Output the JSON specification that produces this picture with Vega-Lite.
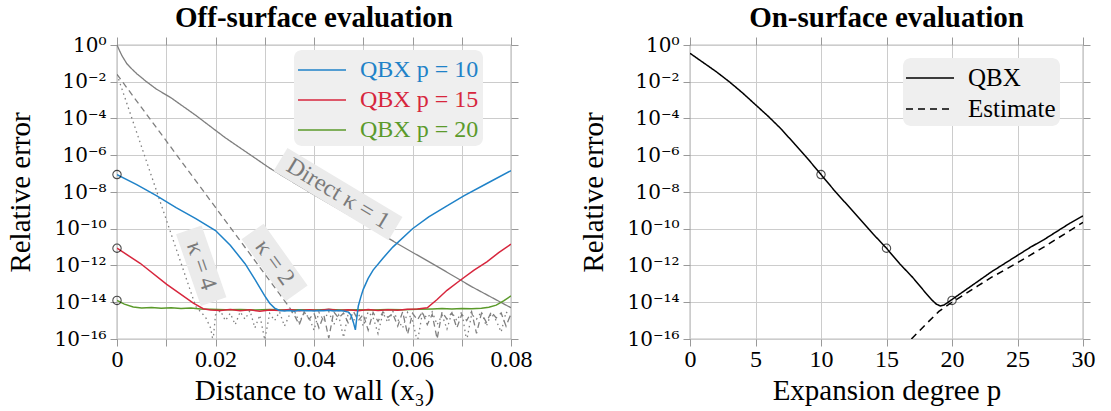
{
  "$schema": "https://vega.github.io/schema/vega-lite/v6.json",
  "background": "white",
  "padding": {"left": 6, "top": 3, "right": 6, "bottom": 0},
  "spacing": 46,
  "config": {
    "font": "Liberation Serif",
    "view": {"stroke": "#808080", "strokeWidth": 1.2},
    "axis": {
      "labelFont": "Liberation Serif", "labelFontSize": 24, "labelColor": "#000",
      "titleFont": "Liberation Serif", "titleFontSize": 29, "titleFontWeight": "normal", "titleColor": "#000",
      "gridColor": "#cccccc", "gridWidth": 1, "domain": false,
      "tickColor": "#999999", "tickSize": 7, "labelPadding": 4
    },
    "axisX": {"labelPadding": 1, "titlePadding": 5},
    "axisY": {"labelFont": "DejaVu Serif", "labelFontSize": 20, "titlePadding": 18},
    "title": {"font": "Liberation Serif", "fontSize": 29, "fontWeight": "bold", "color": "#000", "offset": 2},
    "legend": {"labelFont": "Liberation Serif"}
  },
  "resolve": {"scale": {"color": "independent", "strokeDash": "independent"}},
  "datasets": {
    "gray": [
      {"x": 0, "err": 1, "series": "Direct κ = 1"},
      {"x": 0.0005, "err": 0.5, "series": "Direct κ = 1"},
      {"x": 0.001, "err": 0.263, "series": "Direct κ = 1"},
      {"x": 0.002, "err": 0.0955, "series": "Direct κ = 1"},
      {"x": 0.003, "err": 0.0501, "series": "Direct κ = 1"},
      {"x": 0.004, "err": 0.0275, "series": "Direct κ = 1"},
      {"x": 0.006, "err": 0.01, "series": "Direct κ = 1"},
      {"x": 0.008, "err": 0.00398, "series": "Direct κ = 1"},
      {"x": 0.011, "err": 0.00132, "series": "Direct κ = 1"},
      {"x": 0.016, "err": 0.000148, "series": "Direct κ = 1"},
      {"x": 0.022, "err": 8.91e-6, "series": "Direct κ = 1"},
      {"x": 0.031, "err": 2.0e-7, "series": "Direct κ = 1"},
      {"x": 0.04, "err": 7.08e-9, "series": "Direct κ = 1"},
      {"x": 0.05, "err": 2.0e-10, "series": "Direct κ = 1"},
      {"x": 0.057, "err": 1.51e-11, "series": "Direct κ = 1"},
      {"x": 0.065, "err": 8.91e-13, "series": "Direct κ = 1"},
      {"x": 0.072, "err": 7.08e-14, "series": "Direct κ = 1"},
      {"x": 0.08, "err": 5.01e-15, "series": "Direct κ = 1"},

      {"x": 0, "err": 0.0251, "series": "κ = 2"},
      {"x": 0.005, "err": 3.89e-4, "series": "κ = 2"},
      {"x": 0.01, "err": 6.03e-6, "series": "κ = 2"},
      {"x": 0.015, "err": 9.33e-8, "series": "κ = 2"},
      {"x": 0.02, "err": 1.45e-9, "series": "κ = 2"},
      {"x": 0.025, "err": 2.24e-11, "series": "κ = 2"},
      {"x": 0.03, "err": 3.47e-13, "series": "κ = 2"},
      {"x": 0.033, "err": 2.82e-14, "series": "κ = 2"},
      {"x": 0.035, "err": 5.37e-15, "series": "κ = 2"},
      {"x": 0.036, "err": 2e-15, "series": "κ = 2"},
      {"x": 0.037, "err": 6e-16, "series": "κ = 2"},
      {"x": 0.038, "err": 3e-15, "series": "κ = 2"},
      {"x": 0.039, "err": 1.2e-15, "series": "κ = 2"},
      {"x": 0.04, "err": 2.5e-15, "series": "κ = 2"},
      {"x": 0.041, "err": 4e-16, "series": "κ = 2"},
      {"x": 0.042, "err": 2e-15, "series": "κ = 2"},
      {"x": 0.043, "err": 1.1e-16, "series": "κ = 2"},
      {"x": 0.044, "err": 3e-15, "series": "κ = 2"},
      {"x": 0.045, "err": 1.4e-15, "series": "κ = 2"},
      {"x": 0.046, "err": 2.6e-15, "series": "κ = 2"},
      {"x": 0.047, "err": 7e-16, "series": "κ = 2"},
      {"x": 0.048, "err": 3.2e-15, "series": "κ = 2"},
      {"x": 0.049, "err": 1e-15, "series": "κ = 2"},
      {"x": 0.05, "err": 2.2e-15, "series": "κ = 2"},
      {"x": 0.051, "err": 3e-16, "series": "κ = 2"},
      {"x": 0.052, "err": 2.8e-15, "series": "κ = 2"},
      {"x": 0.053, "err": 9e-16, "series": "κ = 2"},
      {"x": 0.054, "err": 3e-15, "series": "κ = 2"},
      {"x": 0.055, "err": 1.5e-15, "series": "κ = 2"},
      {"x": 0.056, "err": 2.4e-15, "series": "κ = 2"},
      {"x": 0.057, "err": 5e-16, "series": "κ = 2"},
      {"x": 0.058, "err": 3e-15, "series": "κ = 2"},
      {"x": 0.059, "err": 1.8e-16, "series": "κ = 2"},
      {"x": 0.06, "err": 2.5e-15, "series": "κ = 2"},
      {"x": 0.061, "err": 1.1e-15, "series": "κ = 2"},
      {"x": 0.062, "err": 3e-15, "series": "κ = 2"},
      {"x": 0.063, "err": 6e-16, "series": "κ = 2"},
      {"x": 0.064, "err": 2.2e-15, "series": "κ = 2"},
      {"x": 0.065, "err": 1e-16, "series": "κ = 2"},
      {"x": 0.066, "err": 3e-15, "series": "κ = 2"},
      {"x": 0.067, "err": 1.2e-15, "series": "κ = 2"},
      {"x": 0.068, "err": 2.7e-15, "series": "κ = 2"},
      {"x": 0.069, "err": 4e-16, "series": "κ = 2"},
      {"x": 0.07, "err": 2.2e-15, "series": "κ = 2"},
      {"x": 0.071, "err": 1e-15, "series": "κ = 2"},
      {"x": 0.072, "err": 3.1e-15, "series": "κ = 2"},
      {"x": 0.073, "err": 2e-16, "series": "κ = 2"},
      {"x": 0.074, "err": 2.5e-15, "series": "κ = 2"},
      {"x": 0.075, "err": 8e-16, "series": "κ = 2"},
      {"x": 0.076, "err": 3e-15, "series": "κ = 2"},
      {"x": 0.077, "err": 1.4e-15, "series": "κ = 2"},
      {"x": 0.078, "err": 2.6e-15, "series": "κ = 2"},
      {"x": 0.079, "err": 5e-16, "series": "κ = 2"},
      {"x": 0.08, "err": 2.4e-15, "series": "κ = 2"},

      {"x": 0, "err": 0.0251, "series": "κ = 4"},
      {"x": 0.002, "err": 6.61e-4, "series": "κ = 4"},
      {"x": 0.004, "err": 1.74e-5, "series": "κ = 4"},
      {"x": 0.006, "err": 4.57e-7, "series": "κ = 4"},
      {"x": 0.008, "err": 1.2e-8, "series": "κ = 4"},
      {"x": 0.01, "err": 3.16e-10, "series": "κ = 4"},
      {"x": 0.012, "err": 8.32e-12, "series": "κ = 4"},
      {"x": 0.014, "err": 2.19e-13, "series": "κ = 4"},
      {"x": 0.016, "err": 5.75e-15, "series": "κ = 4"},
      {"x": 0.017, "err": 3e-15, "series": "κ = 4"},
      {"x": 0.018, "err": 1.5e-15, "series": "κ = 4"},
      {"x": 0.019, "err": 4e-16, "series": "κ = 4"},
      {"x": 0.0195, "err": 8e-17, "series": "κ = 4"},
      {"x": 0.02, "err": 2e-15, "series": "κ = 4"},
      {"x": 0.021, "err": 3.5e-15, "series": "κ = 4"},
      {"x": 0.022, "err": 1e-15, "series": "κ = 4"},
      {"x": 0.023, "err": 2.5e-15, "series": "κ = 4"},
      {"x": 0.024, "err": 6e-16, "series": "κ = 4"},
      {"x": 0.025, "err": 3e-15, "series": "κ = 4"},
      {"x": 0.026, "err": 1.2e-15, "series": "κ = 4"},
      {"x": 0.027, "err": 3.5e-15, "series": "κ = 4"},
      {"x": 0.028, "err": 4e-16, "series": "κ = 4"},
      {"x": 0.029, "err": 2e-15, "series": "κ = 4"},
      {"x": 0.03, "err": 9e-17, "series": "κ = 4"},
      {"x": 0.031, "err": 2.5e-15, "series": "κ = 4"},
      {"x": 0.032, "err": 1e-15, "series": "κ = 4"},
      {"x": 0.033, "err": 3e-15, "series": "κ = 4"},
      {"x": 0.034, "err": 5e-16, "series": "κ = 4"},
      {"x": 0.035, "err": 2e-15, "series": "κ = 4"},
      {"x": 0.036, "err": 3.5e-15, "series": "κ = 4"},
      {"x": 0.037, "err": 8e-16, "series": "κ = 4"},
      {"x": 0.038, "err": 2.5e-15, "series": "κ = 4"},
      {"x": 0.039, "err": 1.5e-15, "series": "κ = 4"},
      {"x": 0.04, "err": 3e-16, "series": "κ = 4"},
      {"x": 0.041, "err": 2.8e-15, "series": "κ = 4"},
      {"x": 0.042, "err": 1e-15, "series": "κ = 4"},
      {"x": 0.043, "err": 3.2e-15, "series": "κ = 4"},
      {"x": 0.044, "err": 6e-16, "series": "κ = 4"},
      {"x": 0.045, "err": 2e-15, "series": "κ = 4"},
      {"x": 0.046, "err": 1.2e-16, "series": "κ = 4"},
      {"x": 0.047, "err": 3e-15, "series": "κ = 4"},
      {"x": 0.048, "err": 1e-15, "series": "κ = 4"},
      {"x": 0.049, "err": 2.5e-15, "series": "κ = 4"},
      {"x": 0.05, "err": 5e-16, "series": "κ = 4"},
      {"x": 0.051, "err": 3e-15, "series": "κ = 4"},
      {"x": 0.052, "err": 1.5e-15, "series": "κ = 4"},
      {"x": 0.053, "err": 2e-16, "series": "κ = 4"},
      {"x": 0.054, "err": 2.6e-15, "series": "κ = 4"},
      {"x": 0.055, "err": 8e-16, "series": "κ = 4"},
      {"x": 0.056, "err": 3.2e-15, "series": "κ = 4"},
      {"x": 0.057, "err": 1.2e-15, "series": "κ = 4"},
      {"x": 0.058, "err": 4e-16, "series": "κ = 4"},
      {"x": 0.059, "err": 2.8e-15, "series": "κ = 4"},
      {"x": 0.06, "err": 1e-15, "series": "κ = 4"},
      {"x": 0.061, "err": 7e-17, "series": "κ = 4"},
      {"x": 0.062, "err": 2.5e-15, "series": "κ = 4"},
      {"x": 0.063, "err": 1.4e-15, "series": "κ = 4"},
      {"x": 0.064, "err": 3e-15, "series": "κ = 4"},
      {"x": 0.065, "err": 6e-16, "series": "κ = 4"},
      {"x": 0.066, "err": 2e-15, "series": "κ = 4"},
      {"x": 0.067, "err": 3.5e-16, "series": "κ = 4"},
      {"x": 0.068, "err": 2.8e-15, "series": "κ = 4"},
      {"x": 0.069, "err": 1e-15, "series": "κ = 4"},
      {"x": 0.07, "err": 3e-15, "series": "κ = 4"},
      {"x": 0.071, "err": 8e-17, "series": "κ = 4"},
      {"x": 0.072, "err": 2.2e-15, "series": "κ = 4"},
      {"x": 0.073, "err": 1.2e-15, "series": "κ = 4"},
      {"x": 0.074, "err": 3e-15, "series": "κ = 4"},
      {"x": 0.075, "err": 5e-16, "series": "κ = 4"},
      {"x": 0.076, "err": 2.5e-15, "series": "κ = 4"},
      {"x": 0.077, "err": 1e-15, "series": "κ = 4"},
      {"x": 0.078, "err": 2.4e-16, "series": "κ = 4"},
      {"x": 0.079, "err": 3e-15, "series": "κ = 4"},
      {"x": 0.08, "err": 1.5e-15, "series": "κ = 4"}
    ],
    "qbx": [
      {"x": 0, "err": 1.26e-14, "series": "QBX p = 20"},
      {"x": 0.0015, "err": 7.94e-15, "series": "QBX p = 20"},
      {"x": 0.0033, "err": 5.5e-15, "series": "QBX p = 20"},
      {"x": 0.005, "err": 4.8e-15, "series": "QBX p = 20"},
      {"x": 0.007, "err": 5.2e-15, "series": "QBX p = 20"},
      {"x": 0.009, "err": 4.7e-15, "series": "QBX p = 20"},
      {"x": 0.011, "err": 5.0e-15, "series": "QBX p = 20"},
      {"x": 0.013, "err": 4.6e-15, "series": "QBX p = 20"},
      {"x": 0.015, "err": 4.8e-15, "series": "QBX p = 20"},
      {"x": 0.017, "err": 4.3e-15, "series": "QBX p = 20"},
      {"x": 0.019, "err": 4.1e-15, "series": "QBX p = 20"},
      {"x": 0.022, "err": 3.9e-15, "series": "QBX p = 20"},
      {"x": 0.025, "err": 4.0e-15, "series": "QBX p = 20"},
      {"x": 0.028, "err": 3.8e-15, "series": "QBX p = 20"},
      {"x": 0.031, "err": 4.0e-15, "series": "QBX p = 20"},
      {"x": 0.034, "err": 3.8e-15, "series": "QBX p = 20"},
      {"x": 0.037, "err": 3.9e-15, "series": "QBX p = 20"},
      {"x": 0.04, "err": 3.8e-15, "series": "QBX p = 20"},
      {"x": 0.043, "err": 4.0e-15, "series": "QBX p = 20"},
      {"x": 0.046, "err": 3.8e-15, "series": "QBX p = 20"},
      {"x": 0.049, "err": 3.9e-15, "series": "QBX p = 20"},
      {"x": 0.052, "err": 3.8e-15, "series": "QBX p = 20"},
      {"x": 0.055, "err": 4.0e-15, "series": "QBX p = 20"},
      {"x": 0.058, "err": 3.9e-15, "series": "QBX p = 20"},
      {"x": 0.061, "err": 4.1e-15, "series": "QBX p = 20"},
      {"x": 0.064, "err": 4.3e-15, "series": "QBX p = 20"},
      {"x": 0.066, "err": 4.5e-15, "series": "QBX p = 20"},
      {"x": 0.068, "err": 4.3e-15, "series": "QBX p = 20"},
      {"x": 0.07, "err": 4.6e-15, "series": "QBX p = 20"},
      {"x": 0.072, "err": 4.4e-15, "series": "QBX p = 20"},
      {"x": 0.074, "err": 4.7e-15, "series": "QBX p = 20"},
      {"x": 0.0755, "err": 5.3e-15, "series": "QBX p = 20"},
      {"x": 0.077, "err": 7e-15, "series": "QBX p = 20"},
      {"x": 0.0785, "err": 1.2e-14, "series": "QBX p = 20"},
      {"x": 0.08, "err": 2.2e-14, "series": "QBX p = 20"},

      {"x": 0, "err": 8.71e-12, "series": "QBX p = 15"},
      {"x": 0.0047, "err": 1.32e-12, "series": "QBX p = 15"},
      {"x": 0.0101, "err": 9.33e-14, "series": "QBX p = 15"},
      {"x": 0.0155, "err": 8.91e-15, "series": "QBX p = 15"},
      {"x": 0.0175, "err": 4.47e-15, "series": "QBX p = 15"},
      {"x": 0.019, "err": 3.8e-15, "series": "QBX p = 15"},
      {"x": 0.021, "err": 3.6e-15, "series": "QBX p = 15"},
      {"x": 0.023, "err": 4.0e-15, "series": "QBX p = 15"},
      {"x": 0.025, "err": 3.5e-15, "series": "QBX p = 15"},
      {"x": 0.027, "err": 3.9e-15, "series": "QBX p = 15"},
      {"x": 0.029, "err": 3.2e-15, "series": "QBX p = 15"},
      {"x": 0.031, "err": 3.8e-15, "series": "QBX p = 15"},
      {"x": 0.033, "err": 3.6e-15, "series": "QBX p = 15"},
      {"x": 0.035, "err": 4.0e-15, "series": "QBX p = 15"},
      {"x": 0.037, "err": 3.5e-15, "series": "QBX p = 15"},
      {"x": 0.039, "err": 3.9e-15, "series": "QBX p = 15"},
      {"x": 0.041, "err": 3.6e-15, "series": "QBX p = 15"},
      {"x": 0.043, "err": 4.1e-15, "series": "QBX p = 15"},
      {"x": 0.045, "err": 3.6e-15, "series": "QBX p = 15"},
      {"x": 0.047, "err": 3.9e-15, "series": "QBX p = 15"},
      {"x": 0.049, "err": 3.5e-15, "series": "QBX p = 15"},
      {"x": 0.051, "err": 4.0e-15, "series": "QBX p = 15"},
      {"x": 0.053, "err": 3.6e-15, "series": "QBX p = 15"},
      {"x": 0.055, "err": 3.9e-15, "series": "QBX p = 15"},
      {"x": 0.057, "err": 3.7e-15, "series": "QBX p = 15"},
      {"x": 0.059, "err": 4.1e-15, "series": "QBX p = 15"},
      {"x": 0.061, "err": 4.3e-15, "series": "QBX p = 15"},
      {"x": 0.063, "err": 5.0e-15, "series": "QBX p = 15"},
      {"x": 0.065, "err": 1.41e-14, "series": "QBX p = 15"},
      {"x": 0.067, "err": 4.47e-14, "series": "QBX p = 15"},
      {"x": 0.0697, "err": 1.58e-13, "series": "QBX p = 15"},
      {"x": 0.0725, "err": 5.62e-13, "series": "QBX p = 15"},
      {"x": 0.0751, "err": 1.58e-12, "series": "QBX p = 15"},
      {"x": 0.0775, "err": 5.01e-12, "series": "QBX p = 15"},
      {"x": 0.08, "err": 1.45e-11, "series": "QBX p = 15"},

      {"x": 0, "err": 8.91e-8, "series": "QBX p = 10"},
      {"x": 0.004, "err": 2.51e-8, "series": "QBX p = 10"},
      {"x": 0.008, "err": 6.31e-9, "series": "QBX p = 10"},
      {"x": 0.012, "err": 1.41e-9, "series": "QBX p = 10"},
      {"x": 0.016, "err": 3.55e-10, "series": "QBX p = 10"},
      {"x": 0.02, "err": 7.94e-11, "series": "QBX p = 10"},
      {"x": 0.023, "err": 1.26e-11, "series": "QBX p = 10"},
      {"x": 0.026, "err": 1.26e-12, "series": "QBX p = 10"},
      {"x": 0.028, "err": 1.78e-13, "series": "QBX p = 10"},
      {"x": 0.03, "err": 2.24e-14, "series": "QBX p = 10"},
      {"x": 0.031, "err": 8.91e-15, "series": "QBX p = 10"},
      {"x": 0.032, "err": 4.79e-15, "series": "QBX p = 10"},
      {"x": 0.033, "err": 3.55e-15, "series": "QBX p = 10"},
      {"x": 0.034, "err": 3.3e-15, "series": "QBX p = 10"},
      {"x": 0.035, "err": 3.6e-15, "series": "QBX p = 10"},
      {"x": 0.036, "err": 3.2e-15, "series": "QBX p = 10"},
      {"x": 0.037, "err": 3.7e-15, "series": "QBX p = 10"},
      {"x": 0.038, "err": 3.4e-15, "series": "QBX p = 10"},
      {"x": 0.039, "err": 3.5e-15, "series": "QBX p = 10"},
      {"x": 0.04, "err": 3.3e-15, "series": "QBX p = 10"},
      {"x": 0.041, "err": 3.6e-15, "series": "QBX p = 10"},
      {"x": 0.042, "err": 3.4e-15, "series": "QBX p = 10"},
      {"x": 0.043, "err": 3.7e-15, "series": "QBX p = 10"},
      {"x": 0.044, "err": 3.3e-15, "series": "QBX p = 10"},
      {"x": 0.045, "err": 3.5e-15, "series": "QBX p = 10"},
      {"x": 0.046, "err": 3.3e-15, "series": "QBX p = 10"},
      {"x": 0.047, "err": 2.9e-15, "series": "QBX p = 10"},
      {"x": 0.0475, "err": 2.0e-15, "series": "QBX p = 10"},
      {"x": 0.048, "err": 8e-16, "series": "QBX p = 10"},
      {"x": 0.0484, "err": 3.16e-16, "series": "QBX p = 10"},
      {"x": 0.0487, "err": 1.5e-15, "series": "QBX p = 10"},
      {"x": 0.049, "err": 6.31e-15, "series": "QBX p = 10"},
      {"x": 0.0495, "err": 1.9e-14, "series": "QBX p = 10"},
      {"x": 0.05, "err": 5.01e-14, "series": "QBX p = 10"},
      {"x": 0.051, "err": 2.0e-13, "series": "QBX p = 10"},
      {"x": 0.052, "err": 5.62e-13, "series": "QBX p = 10"},
      {"x": 0.054, "err": 2.51e-12, "series": "QBX p = 10"},
      {"x": 0.056, "err": 1e-11, "series": "QBX p = 10"},
      {"x": 0.06, "err": 1e-10, "series": "QBX p = 10"},
      {"x": 0.0633, "err": 4.47e-10, "series": "QBX p = 10"},
      {"x": 0.067, "err": 1.78e-9, "series": "QBX p = 10"},
      {"x": 0.0705, "err": 6.31e-9, "series": "QBX p = 10"},
      {"x": 0.075, "err": 2.82e-8, "series": "QBX p = 10"},
      {"x": 0.08, "err": 1.45e-7, "series": "QBX p = 10"}
    ],
    "offMarkers": [
      {"x": 0, "err": 8.91e-8},
      {"x": 0, "err": 8.71e-12},
      {"x": 0, "err": 1.26e-14}
    ],
    "labelBoxes": [
      {"label": "Direct κ = 1", "x1": 0.0332, "e1": 5.89e-7, "x2": 0.05655, "e2": 1.02e-10},
      {"label": "κ = 2", "x1": 0.02753, "e1": 7.08e-11, "x2": 0.03647, "e2": 3.02e-14},
      {"label": "κ = 4", "x1": 0.01458, "e1": 8.71e-11, "x2": 0.01962, "e2": 1.07e-14}
    ],
    "labels": [
      {"label": "Direct κ = 1", "x": 0.0449, "err": 7.94e-9},
      {"label": "κ = 2", "x": 0.032, "err": 1.45e-12},
      {"label": "κ = 4", "x": 0.0171, "err": 9.55e-13}
    ],
    "on": [
      {"p": 0, "err": 0.355, "series": "QBX"},
      {"p": 1, "err": 0.112, "series": "QBX"},
      {"p": 2, "err": 0.0355, "series": "QBX"},
      {"p": 3, "err": 0.01, "series": "QBX"},
      {"p": 4, "err": 2.51e-3, "series": "QBX"},
      {"p": 5, "err": 5.62e-4, "series": "QBX"},
      {"p": 6, "err": 1.26e-4, "series": "QBX"},
      {"p": 7, "err": 2.51e-5, "series": "QBX"},
      {"p": 8, "err": 3.98e-6, "series": "QBX"},
      {"p": 9, "err": 6.31e-7, "series": "QBX"},
      {"p": 10, "err": 8.91e-8, "series": "QBX"},
      {"p": 11, "err": 1.26e-8, "series": "QBX"},
      {"p": 12, "err": 2.0e-9, "series": "QBX"},
      {"p": 13, "err": 3.16e-10, "series": "QBX"},
      {"p": 14, "err": 5.01e-11, "series": "QBX"},
      {"p": 15, "err": 8.71e-12, "series": "QBX"},
      {"p": 16, "err": 1.26e-12, "series": "QBX"},
      {"p": 17, "err": 2.24e-13, "series": "QBX"},
      {"p": 18, "err": 3.16e-14, "series": "QBX"},
      {"p": 18.5, "err": 1.26e-14, "series": "QBX"},
      {"p": 18.8, "err": 7.94e-15, "series": "QBX"},
      {"p": 19.1, "err": 6.31e-15, "series": "QBX"},
      {"p": 19.4, "err": 7.08e-15, "series": "QBX"},
      {"p": 19.7, "err": 1e-14, "series": "QBX"},
      {"p": 20, "err": 1.41e-14, "series": "QBX"},
      {"p": 21, "err": 4.47e-14, "series": "QBX"},
      {"p": 22, "err": 1.41e-13, "series": "QBX"},
      {"p": 23, "err": 4.47e-13, "series": "QBX"},
      {"p": 24, "err": 1.26e-12, "series": "QBX"},
      {"p": 25, "err": 3.55e-12, "series": "QBX"},
      {"p": 26, "err": 1e-11, "series": "QBX"},
      {"p": 27, "err": 2.51e-11, "series": "QBX"},
      {"p": 28, "err": 7.08e-11, "series": "QBX"},
      {"p": 29, "err": 2.0e-10, "series": "QBX"},
      {"p": 30, "err": 5.01e-10, "series": "QBX"},
      {"p": 16.9, "err": 1e-16, "series": "Estimate"},
      {"p": 18, "err": 6.31e-16, "series": "Estimate"},
      {"p": 19, "err": 3.16e-15, "series": "Estimate"},
      {"p": 20, "err": 1e-14, "series": "Estimate"},
      {"p": 21, "err": 2.82e-14, "series": "Estimate"},
      {"p": 22, "err": 7.94e-14, "series": "Estimate"},
      {"p": 23, "err": 2.24e-13, "series": "Estimate"},
      {"p": 25, "err": 1.41e-12, "series": "Estimate"},
      {"p": 27, "err": 1e-11, "series": "Estimate"},
      {"p": 30, "err": 2.24e-10, "series": "Estimate"}
    ],
    "onMarkers": [
      {"p": 10, "err": 8.91e-8},
      {"p": 15, "err": 8.71e-12},
      {"p": 20, "err": 1.26e-14}
    ]
  },
  "hconcat": [
    {
      "width": 394,
      "height": 294,
      "title": "Off-surface evaluation",
      "resolve": {"axis": {"x": "independent", "y": "independent"}},
      "layer": [
        {
          "data": {"name": "gray"},
          "mark": {"type": "line", "color": "#7f7f7f", "strokeWidth": 1.3, "clip": true},
          "encoding": {
            "x": {"field": "x", "type": "quantitative", "scale": {"domain": [0, 0.08], "nice": false, "zero": false},
              "axis": {"title": "Distance to wall (x₃)", "values": [0, 0.01, 0.02, 0.03, 0.04, 0.05, 0.06, 0.07, 0.08],
                "labelExpr": "round(datum.value * 100) % 2 == 0 ? (datum.value == 0 ? '0' : format(datum.value, '.2f')) : ''", "grid": true, "labelFlush": false}},
            "y": {"field": "err", "type": "quantitative", "scale": {"type": "log", "domain": [1e-16, 1], "nice": false},
              "axis": {"title": "Relative error", "values": [1e-16, 1e-14, 1e-12, 1e-10, 1e-8, 1e-6, 1e-4, 1e-2, 1],
                "labelExpr": "'10' + replace(replace(replace(replace(replace(replace(replace('' + round(log(datum.value) / LN10), '-', '⁻'), '0', '⁰'), '1', '¹'), '2', '²'), '4', '⁴'), '6', '⁶'), '8', '⁸')",
                "grid": true, "labelFlush": false}},
            "strokeDash": {"field": "series", "type": "nominal",
              "scale": {"domain": ["Direct κ = 1", "κ = 2", "κ = 4"], "range": [[1, 0], [6, 4], [1.5, 3.5]]}, "legend": null}
          }
        },
        {
          "data": {"name": "qbx"},
          "mark": {"type": "line", "strokeWidth": 1.5, "clip": true},
          "encoding": {
            "x": {"field": "x", "type": "quantitative", "axis": null},
            "y": {"field": "err", "type": "quantitative", "axis": null},
            "color": {"field": "series", "type": "nominal",
              "scale": {"domain": ["QBX p = 10", "QBX p = 15", "QBX p = 20"], "range": ["#1f82c8", "#d7263d", "#5b9a2b"]},
              "legend": {"orient": "none", "legendX": 177, "legendY": 5, "title": null, "symbolType": "M-1.6,0H1.6",
                "symbolSize": 900, "symbolStrokeWidth": 1.5, "symbolOffset": 8, "labelFontSize": 24, "labelOffset": 22,
                "fillColor": "#efefef", "cornerRadius": 8, "padding": 4, "rowPadding": 2,
                "labelColor": {"expr": "datum.value == 'QBX p = 10' ? '#1f82c8' : datum.value == 'QBX p = 15' ? '#d7263d' : '#5b9a2b'"}}}
          }
        },
        {
          "data": {"name": "labelBoxes"},
          "mark": {"type": "rule", "color": "#ebebeb", "strokeWidth": 27, "strokeCap": "butt"},
          "encoding": {
            "x": {"field": "x1", "type": "quantitative", "axis": null},
            "y": {"field": "e1", "type": "quantitative", "axis": null},
            "x2": {"field": "x2"},
            "y2": {"field": "e2"}
          }
        },
        {
          "data": {"name": "labels"},
          "transform": [{"filter": "datum.label == 'Direct κ = 1'"}],
          "mark": {"type": "text", "angle": 31, "font": "Liberation Serif", "fontSize": 24, "color": "#7a7a7a", "align": "center", "baseline": "middle"},
          "encoding": {"x": {"field": "x", "type": "quantitative", "axis": null}, "y": {"field": "err", "type": "quantitative", "axis": null}, "text": {"field": "label"}}
        },
        {
          "data": {"name": "labels"},
          "transform": [{"filter": "datum.label == 'κ = 2'"}],
          "mark": {"type": "text", "angle": 54, "font": "Liberation Serif", "fontSize": 24, "color": "#7a7a7a", "align": "center", "baseline": "middle"},
          "encoding": {"x": {"field": "x", "type": "quantitative", "axis": null}, "y": {"field": "err", "type": "quantitative", "axis": null}, "text": {"field": "label"}}
        },
        {
          "data": {"name": "labels"},
          "transform": [{"filter": "datum.label == 'κ = 4'"}],
          "mark": {"type": "text", "angle": 71, "font": "Liberation Serif", "fontSize": 24, "color": "#7a7a7a", "align": "center", "baseline": "middle"},
          "encoding": {"x": {"field": "x", "type": "quantitative", "axis": null}, "y": {"field": "err", "type": "quantitative", "axis": null}, "text": {"field": "label"}}
        },
        {
          "data": {"name": "offMarkers"},
          "mark": {"type": "point", "shape": "circle", "filled": false, "color": "#000", "strokeWidth": 1.1, "size": 70, "clip": false},
          "encoding": {
            "x": {"field": "x", "type": "quantitative",
              "axis": {"orient": "top", "values": [0, 0.01, 0.02, 0.03, 0.04, 0.05, 0.06, 0.07, 0.08], "labels": false, "grid": false, "title": null, "tickSize": 8}},
            "y": {"field": "err", "type": "quantitative",
              "axis": {"orient": "right", "values": [1e-16, 1e-14, 1e-12, 1e-10, 1e-8, 1e-6, 1e-4, 1e-2, 1], "labels": false, "grid": false, "title": null, "tickSize": 7}}
          }
        }
      ]
    },
    {
      "width": 393,
      "height": 294,
      "title": "On-surface evaluation",
      "resolve": {"axis": {"x": "independent", "y": "independent"}},
      "layer": [
        {
          "data": {"name": "on"},
          "mark": {"type": "line", "color": "#000", "strokeWidth": 1.5, "clip": true},
          "encoding": {
            "x": {"field": "p", "type": "quantitative", "scale": {"domain": [0, 30], "nice": false, "zero": false},
              "axis": {"title": "Expansion degree p", "values": [0, 5, 10, 15, 20, 25, 30], "grid": true, "labelFlush": false}},
            "y": {"field": "err", "type": "quantitative", "scale": {"type": "log", "domain": [1e-16, 1], "nice": false},
              "axis": {"title": "Relative error", "values": [1e-16, 1e-14, 1e-12, 1e-10, 1e-8, 1e-6, 1e-4, 1e-2, 1],
                "labelExpr": "'10' + replace(replace(replace(replace(replace(replace(replace('' + round(log(datum.value) / LN10), '-', '⁻'), '0', '⁰'), '1', '¹'), '2', '²'), '4', '⁴'), '6', '⁶'), '8', '⁸')",
                "grid": true, "labelFlush": false}},
            "strokeDash": {"field": "series", "type": "nominal",
              "scale": {"domain": ["QBX", "Estimate"], "range": [[1, 0], [7, 5]]},
              "legend": {"orient": "none", "legendX": 213, "legendY": 13, "title": null, "symbolType": "M-1.6,0H1.6",
                "symbolSize": 900, "symbolStrokeWidth": 1.5, "symbolStrokeColor": "#000", "symbolOffset": 7, "labelFontSize": 25, "labelOffset": 22, "labelColor": "#000",
                "fillColor": "#efefef", "cornerRadius": 8, "padding": 4, "rowPadding": 2}}
          }
        },
        {
          "data": {"name": "onMarkers"},
          "mark": {"type": "point", "shape": "circle", "filled": false, "color": "#000", "strokeWidth": 1.1, "size": 70, "clip": false},
          "encoding": {
            "x": {"field": "p", "type": "quantitative",
              "axis": {"orient": "top", "values": [0, 5, 10, 15, 20, 25, 30], "labels": false, "grid": false, "title": null, "tickSize": 8}},
            "y": {"field": "err", "type": "quantitative",
              "axis": {"orient": "right", "values": [1e-16, 1e-14, 1e-12, 1e-10, 1e-8, 1e-6, 1e-4, 1e-2, 1], "labels": false, "grid": false, "title": null, "tickSize": 7}}
          }
        }
      ]
    }
  ]
}
